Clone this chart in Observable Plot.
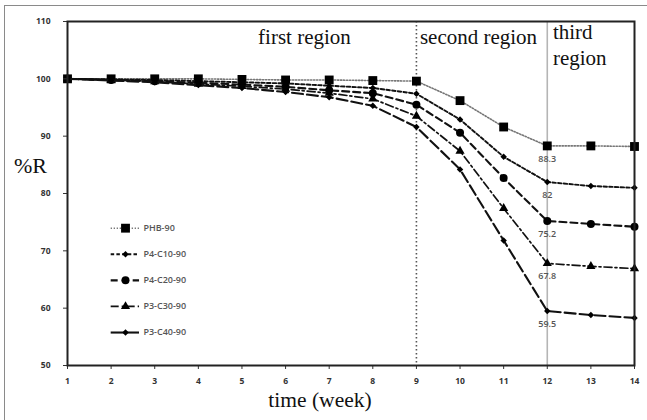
<!DOCTYPE html>
<html><head><meta charset="utf-8">
<script src="https://cdn.jsdelivr.net/npm/d3@7"></script>
<script src="https://cdn.jsdelivr.net/npm/@observablehq/plot@0.6"></script>
<style>
body{margin:0;background:#fff;}
#wrap{position:relative;width:647px;height:420px;overflow:hidden;background:#fff;}
#border{position:absolute;left:4px;top:5px;width:700px;height:500px;border:1.5px solid #8a8a8a;pointer-events:none;}
#chart{position:absolute;left:0;top:0;}
</style></head><body>
<div id="wrap"><div id="chart"></div><div id="border"></div></div>
<script>
// ---- data ----
const weeks = [1, 2, 3, 4, 5, 6, 7, 8, 9, 10, 11, 12, 13, 14];
const seriesNames = ["PHB-90", "P4-C10-90", "P4-C20-90", "P3-C30-90", "P3-C40-90"];
const phb90   = [100, 100, 100, 100, 99.9, 99.8, 99.8, 99.7, 99.6, 96.2, 91.6, 88.3, 88.3, 88.2];
const p4c1090 = [100, 99.9, 99.8, 99.6, 99.4, 99.2, 98.8, 98.4, 97.4, 92.9, 86.4, 82.0, 81.3, 81.0];
const p4c2090 = [100, 99.8, 99.6, 99.3, 99.0, 98.6, 98.0, 97.5, 95.5, 90.6, 82.7, 75.2, 74.7, 74.2];
const p3c3090 = [100, 99.8, 99.5, 99.1, 98.7, 98.2, 97.5, 96.5, 93.5, 87.4, 77.4, 67.8, 67.3, 66.9];
const p3c4090 = [100, 99.7, 99.4, 98.9, 98.4, 97.7, 96.8, 95.3, 91.6, 84.2, 71.8, 59.5, 58.8, 58.3];
const week12Labels = ["88.3", "82", "75.2", "67.8", "59.5"];
const xTicks = [1, 2, 3, 4, 5, 6, 7, 8, 9, 10, 11, 12, 13, 14];
const yTicks = [50, 60, 70, 80, 90, 100, 110];
const regionBoundaries = [9, 12];
const regionTitles = ["first region", "second region", "third", "region"];

// ---- styles ----
const seriesValues = [phb90, p4c1090, p4c2090, p3c3090, p3c4090];
const styles = [
  {stroke: "#777", dash: "1.3,1.7", width: 1.6, symbol: "square", r: 5, legendDash: "1.3,1.7"},
  {stroke: "#111", dash: "3.5,2.2", width: 1.9, symbol: "diamond2", r: 2.9, legendDash: "3.5,2.2"},
  {stroke: "#111", dash: "7,4", width: 2.1, symbol: "circle", r: 4, legendDash: "7,4"},
  {stroke: "#111", dash: "8,3,2,3", width: 1.7, symbol: "triangle", r: 3.4, legendDash: "8,3,2,3"},
  {stroke: "#111", dash: "11,4", width: 2.1, symbol: "diamond2", r: 2.9, legendDash: null}
];

const rows = seriesNames.flatMap((name, i) =>
  weeks.map((w, j) => ({series: name, week: w, value: seriesValues[i][j], idx: i})));

const marks = [];
// region boundaries
marks.push(Plot.ruleX([regionBoundaries[1]], {stroke: "#b5b5b5", strokeWidth: 1.6}));
marks.push(Plot.ruleX([regionBoundaries[0]], {stroke: "#555", strokeWidth: 1.6, strokeDasharray: "1.5,2.5"}));

seriesNames.forEach((name, i) => {
  const s = styles[i];
  const d = rows.filter(r => r.series === name);
  marks.push(Plot.line(d, {x: "week", y: "value", stroke: s.stroke, strokeWidth: s.width, strokeDasharray: s.dash}));
  marks.push(Plot.dot(d, {x: "week", y: "value", symbol: () => s.symbol, r: s.r, fill: "#000", stroke: "none"}));
});

// week-12 value labels
const w12 = seriesNames.map((name, i) => ({week: 12, value: seriesValues[i][weeks.indexOf(12)], label: week12Labels[i]}));
marks.push(Plot.text(w12, {x: "week", y: "value", text: "label", dy: 13, fontSize: 9, fill: "#555", fontFamily: "Open Sans", fontWeight: 600}));

// legend (data-space placement inside the frame)
const legendRows = seriesNames.map((name, i) => ({name, i, y: 73.95 - i * 4.55, x1: 1.99, x2: 2.64, xm: 2.33, xt: 2.74}));
legendRows.forEach(r => {
  const s = styles[r.i];
  marks.push(Plot.link([r], {x1: "x1", x2: "x2", y1: "y", y2: "y", stroke: s.stroke, strokeWidth: s.width, strokeDasharray: s.legendDash}));
  marks.push(Plot.dot([r], {x: "xm", y: "y", symbol: () => s.symbol, r: s.r, fill: "#000", stroke: "none"}));
});
marks.push(Plot.text(legendRows, {x: "xt", y: "y", text: "name", textAnchor: "start", fontSize: 9, fill: "#555", fontFamily: "Open Sans", fontWeight: 600}));

// region titles
const regionPos = [
  {x: 5.37, y: 106.0, t: regionTitles[0]},
  {x: 9.08, y: 106.0, t: regionTitles[1]},
  {x: 12.13, y: 106.9, t: regionTitles[2]},
  {x: 12.13, y: 102.5, t: regionTitles[3]}
];
marks.push(Plot.text(regionPos, {x: "x", y: "y", text: "t", textAnchor: "start", lineAnchor: "bottom", fontSize: 21, fontFamily: "Liberation Serif", fill: "#111"}));

// axes
marks.push(Plot.axisY({ticks: yTicks, tickSize: 4, tickPadding: 13, fontSize: 8.5, fontWeight: 700, fontFamily: "Open Sans", color: "#333", label: null}));
marks.push(Plot.axisX({ticks: xTicks, tickSize: 4, tickPadding: 8, fontSize: 8.5, fontWeight: 700, fontFamily: "Open Sans", color: "#333", label: null, tickFormat: d => String(d)}));
marks.push(Plot.frame({stroke: "#222", strokeWidth: 2}));

const chart = Plot.plot({
  width: 647,
  height: 420,
  marginLeft: 67,
  marginRight: 13,
  marginTop: 21,
  marginBottom: 55,
  x: {domain: [1, 14]},
  y: {domain: [50, 110]},
  style: {background: "transparent", overflow: "visible"},
  marks
});

// axis titles as SVG text
const svg = d3.select(chart);
svg.append("text").attr("x", 14).attr("y", 173).attr("text-anchor", "start").attr("font-family", "Liberation Serif").attr("font-size", 22).attr("fill", "#111").text("%R");
svg.append("text").attr("x", 320).attr("y", 407).attr("text-anchor", "middle").attr("font-family", "Liberation Serif").attr("font-size", 21.5).attr("fill", "#111").text("time (week)");

document.getElementById("chart").appendChild(chart);
</script>
</body></html>
